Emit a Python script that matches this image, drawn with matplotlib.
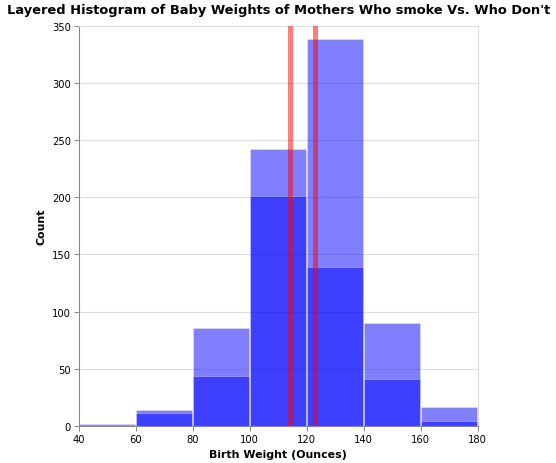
import numpy as np
import matplotlib
matplotlib.use("Agg")
import matplotlib.pyplot as plt

# histogram bins (ounces) and counts
bin_edges = [40, 60, 80, 100, 120, 140, 160, 180]
nonsmoker_counts = [2, 14, 86, 242, 338, 90, 17]
smoker_counts = [1, 11, 44, 201, 139, 41, 4]
mean_weights = [114.0, 123.0]   # smokers, non-smokers

x_ticks = [40, 60, 80, 100, 120, 140, 160, 180]
y_ticks = [0, 50, 100, 150, 200, 250, 300, 350]

px = 1 / 100.0
fig = plt.figure(figsize=(556 * px, 464 * px), dpi=100)
ax = fig.add_axes([78.7 / 556, 1 - 427 / 464, 399 / 556, 400.3 / 464])

left = np.array(bin_edges[:-1])
width = np.diff(bin_edges)

for counts in (nonsmoker_counts, smoker_counts):
    ax.bar(left + 0.18, counts, width=width - 0.36, align='edge',
           color=(0, 0, 1, 0.5), edgecolor=(1, 1, 1, 0.35), linewidth=0.6, zorder=2)

for mw in mean_weights:
    ax.axvline(mw, color='red', alpha=0.5, linewidth=3.6, zorder=3)

ax.set_xlim(40, 180)
ax.set_ylim(0, 350)
ax.set_xticks(x_ticks)
ax.set_yticks(y_ticks)
ax.yaxis.grid(True, color='#dddddd', linewidth=0.8, zorder=0)
ax.set_axisbelow(True)

for side in ('top', 'right'):
    ax.spines[side].set_color('#dddddd')
    ax.spines[side].set_linewidth(0.8)
for side in ('left', 'bottom'):
    ax.spines[side].set_color('#888888')
    ax.spines[side].set_linewidth(0.8)

ax.tick_params(axis='both', length=5 * 0.72, width=0.7, color='#888888',
               labelsize=7.2, pad=2, labelcolor='black')

ax.set_xlabel('Birth Weight (Ounces)', fontsize=7.9, fontweight='bold', labelpad=4)
ax.set_ylabel('Count', fontsize=7.9, fontweight='bold', labelpad=4)
ax.set_title("Layered Histogram of Baby Weights of Mothers Who smoke Vs. Who Don't",
             fontsize=9.4, fontweight='bold', pad=9)

fig.savefig('out.png', dpi=100)
